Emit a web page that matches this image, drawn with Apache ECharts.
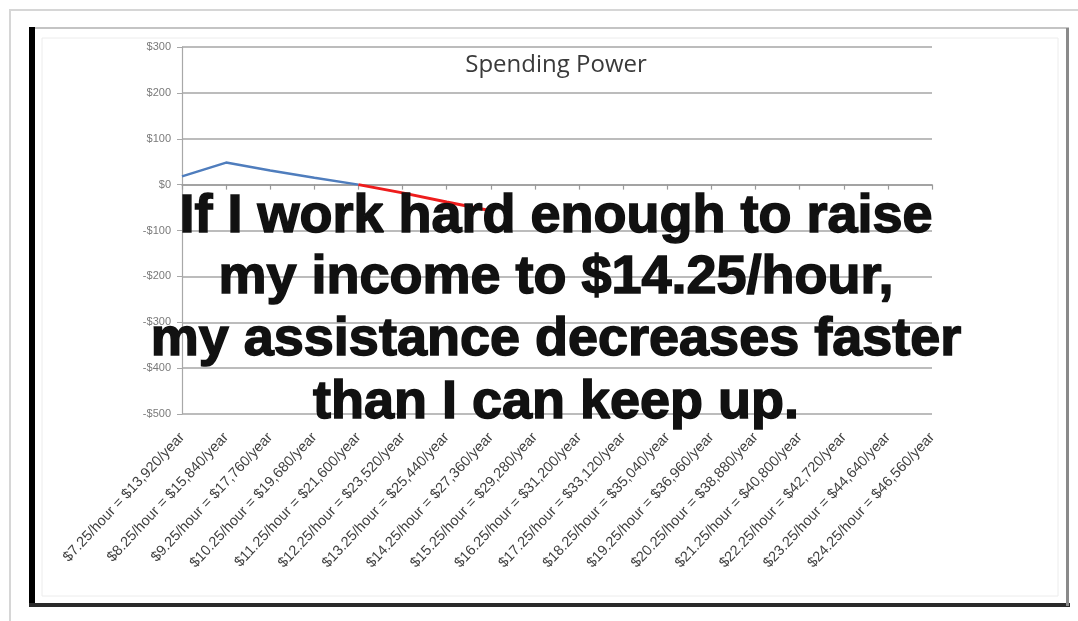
<!DOCTYPE html>
<html>
<head>
<meta charset="utf-8">
<script src="https://cdn.jsdelivr.net/npm/echarts@6/dist/echarts.min.js"></script>
<style>
html,body{margin:0;padding:0;background:#fff;}
#chart{width:1078px;height:621px;}
</style>
</head>
<body>
<div id="chart"></div>
<script>
const chartTitle = 'Spending Power';
const categories = [
  '$7.25/hour = $13,920/year', '$8.25/hour = $15,840/year', '$9.25/hour = $17,760/year',
  '$10.25/hour = $19,680/year', '$11.25/hour = $21,600/year', '$12.25/hour = $23,520/year',
  '$13.25/hour = $25,440/year', '$14.25/hour = $27,360/year', '$15.25/hour = $29,280/year',
  '$16.25/hour = $31,200/year', '$17.25/hour = $33,120/year', '$18.25/hour = $35,040/year',
  '$19.25/hour = $36,960/year', '$20.25/hour = $38,880/year', '$21.25/hour = $40,800/year',
  '$22.25/hour = $42,720/year', '$23.25/hour = $44,640/year', '$24.25/hour = $46,560/year'
];
const gainValues = [18, 48, 31, 15, 0, '-', '-', '-', '-', '-', '-', '-', '-', '-', '-', '-', '-', '-'];
const lossValues = ['-', '-', '-', '-', 0, -18, -38, -57, '-', '-', '-', '-', '-', '-', '-', '-', '-', '-'];
const yTicks = { min: -500, max: 300, interval: 100 };
const overlayLines = [
  'If I work hard enough to raise',
  'my income to $14.25/hour,',
  'my assistance decreases faster',
  'than I can keep up.'
];

const chart = echarts.init(document.getElementById('chart'));

function money(v) {
  return v < 0 ? '-$' + Math.abs(v) : '$' + v;
}

const overlayY = [217, 278, 340, 403];

const option = {
  backgroundColor: '#ffffff',
  animation: false,
  title: {
    text: chartTitle,
    left: 551,
    top: 48,
    textAlign: 'center',
    textStyle: { fontFamily: 'Open Sans', fontSize: 24, fontWeight: 'normal', color: '#3a3a3a' }
  },
  grid: { left: 182, right: 146, top: 47, bottom: 207, containLabel: false },
  xAxis: [
    {
      type: 'category',
      data: categories,
      boundaryGap: false,
      axisLine: { onZero: true, lineStyle: { color: '#9a9a9a', width: 1.5 } },
      axisTick: { show: true, interval: 0, length: 5, lineStyle: { color: '#9a9a9a', width: 1.2 } },
      axisLabel: { show: false },
      splitLine: { show: false }
    },
    {
      type: 'category',
      data: categories,
      boundaryGap: false,
      position: 'bottom',
      axisLine: { show: false, onZero: false },
      axisTick: { show: false },
      axisLabel: {
        show: true, interval: 0, rotate: 47, margin: 21,
        fontFamily: 'Liberation Sans', fontSize: 14.5, color: '#3f3f3f'
      },
      splitLine: { show: false }
    }
  ],
  yAxis: {
    type: 'value',
    min: yTicks.min, max: yTicks.max, interval: yTicks.interval,
    axisLine: { show: true, lineStyle: { color: '#a8a8a8', width: 1.2 } },
    axisTick: { show: true, length: 5, lineStyle: { color: '#a8a8a8' } },
    axisLabel: {
      formatter: money, margin: 11,
      fontFamily: 'Liberation Sans', fontSize: 11, color: '#7a7a7a'
    },
    splitLine: { show: true, lineStyle: { color: '#a6a6a6', width: 1.5 } }
  },
  series: [
    {
      type: 'line', name: 'gain', data: gainValues, xAxisIndex: 0,
      symbol: 'none', connectNulls: false,
      lineStyle: { color: '#4f7dbd', width: 2.5 }, z: 3
    },
    {
      type: 'line', name: 'loss', data: lossValues, xAxisIndex: 0,
      symbol: 'none', connectNulls: false,
      lineStyle: { color: '#ee1c1c', width: 3 }, z: 3
    }
  ],
  graphic: [
    { type: 'rect', shape: { x: 10, y: 10, width: 1080, height: 630 },
      style: { fill: 'none', stroke: '#d6d6d6', lineWidth: 2 }, z: 0 },
    { type: 'rect', shape: { x: 32, y: 28, width: 1036, height: 576 },
      style: { fill: 'none', stroke: '#c4c4c4', lineWidth: 2 }, z: 0 },
    { type: 'rect', shape: { x: 42, y: 38, width: 1016, height: 558 },
      style: { fill: 'none', stroke: '#ececec', lineWidth: 1 }, z: 0 },
    { type: 'rect', shape: { x: 29, y: 27, width: 6, height: 580 },
      style: { fill: '#000000' }, z: 1 },
    { type: 'rect', shape: { x: 29, y: 603, width: 1041, height: 4 },
      style: { fill: '#2a2a2a' }, z: 1 },
    { type: 'rect', shape: { x: 1066, y: 28, width: 3, height: 578 },
      style: { fill: '#8a8a8a' }, z: 1 }
  ].concat(overlayLines.map(function (t, i) {
    return {
      type: 'text', z: 100,
      x: 556, y: overlayY[i],
      style: {
        text: t, align: 'center', verticalAlign: 'middle',
        fontFamily: 'Liberation Sans', fontWeight: 'bold', fontSize: 54,
        fill: '#111111', stroke: '#111111', lineWidth: 1.5
      }
    };
  }))
};

chart.setOption(option);
</script>
</body>
</html>
